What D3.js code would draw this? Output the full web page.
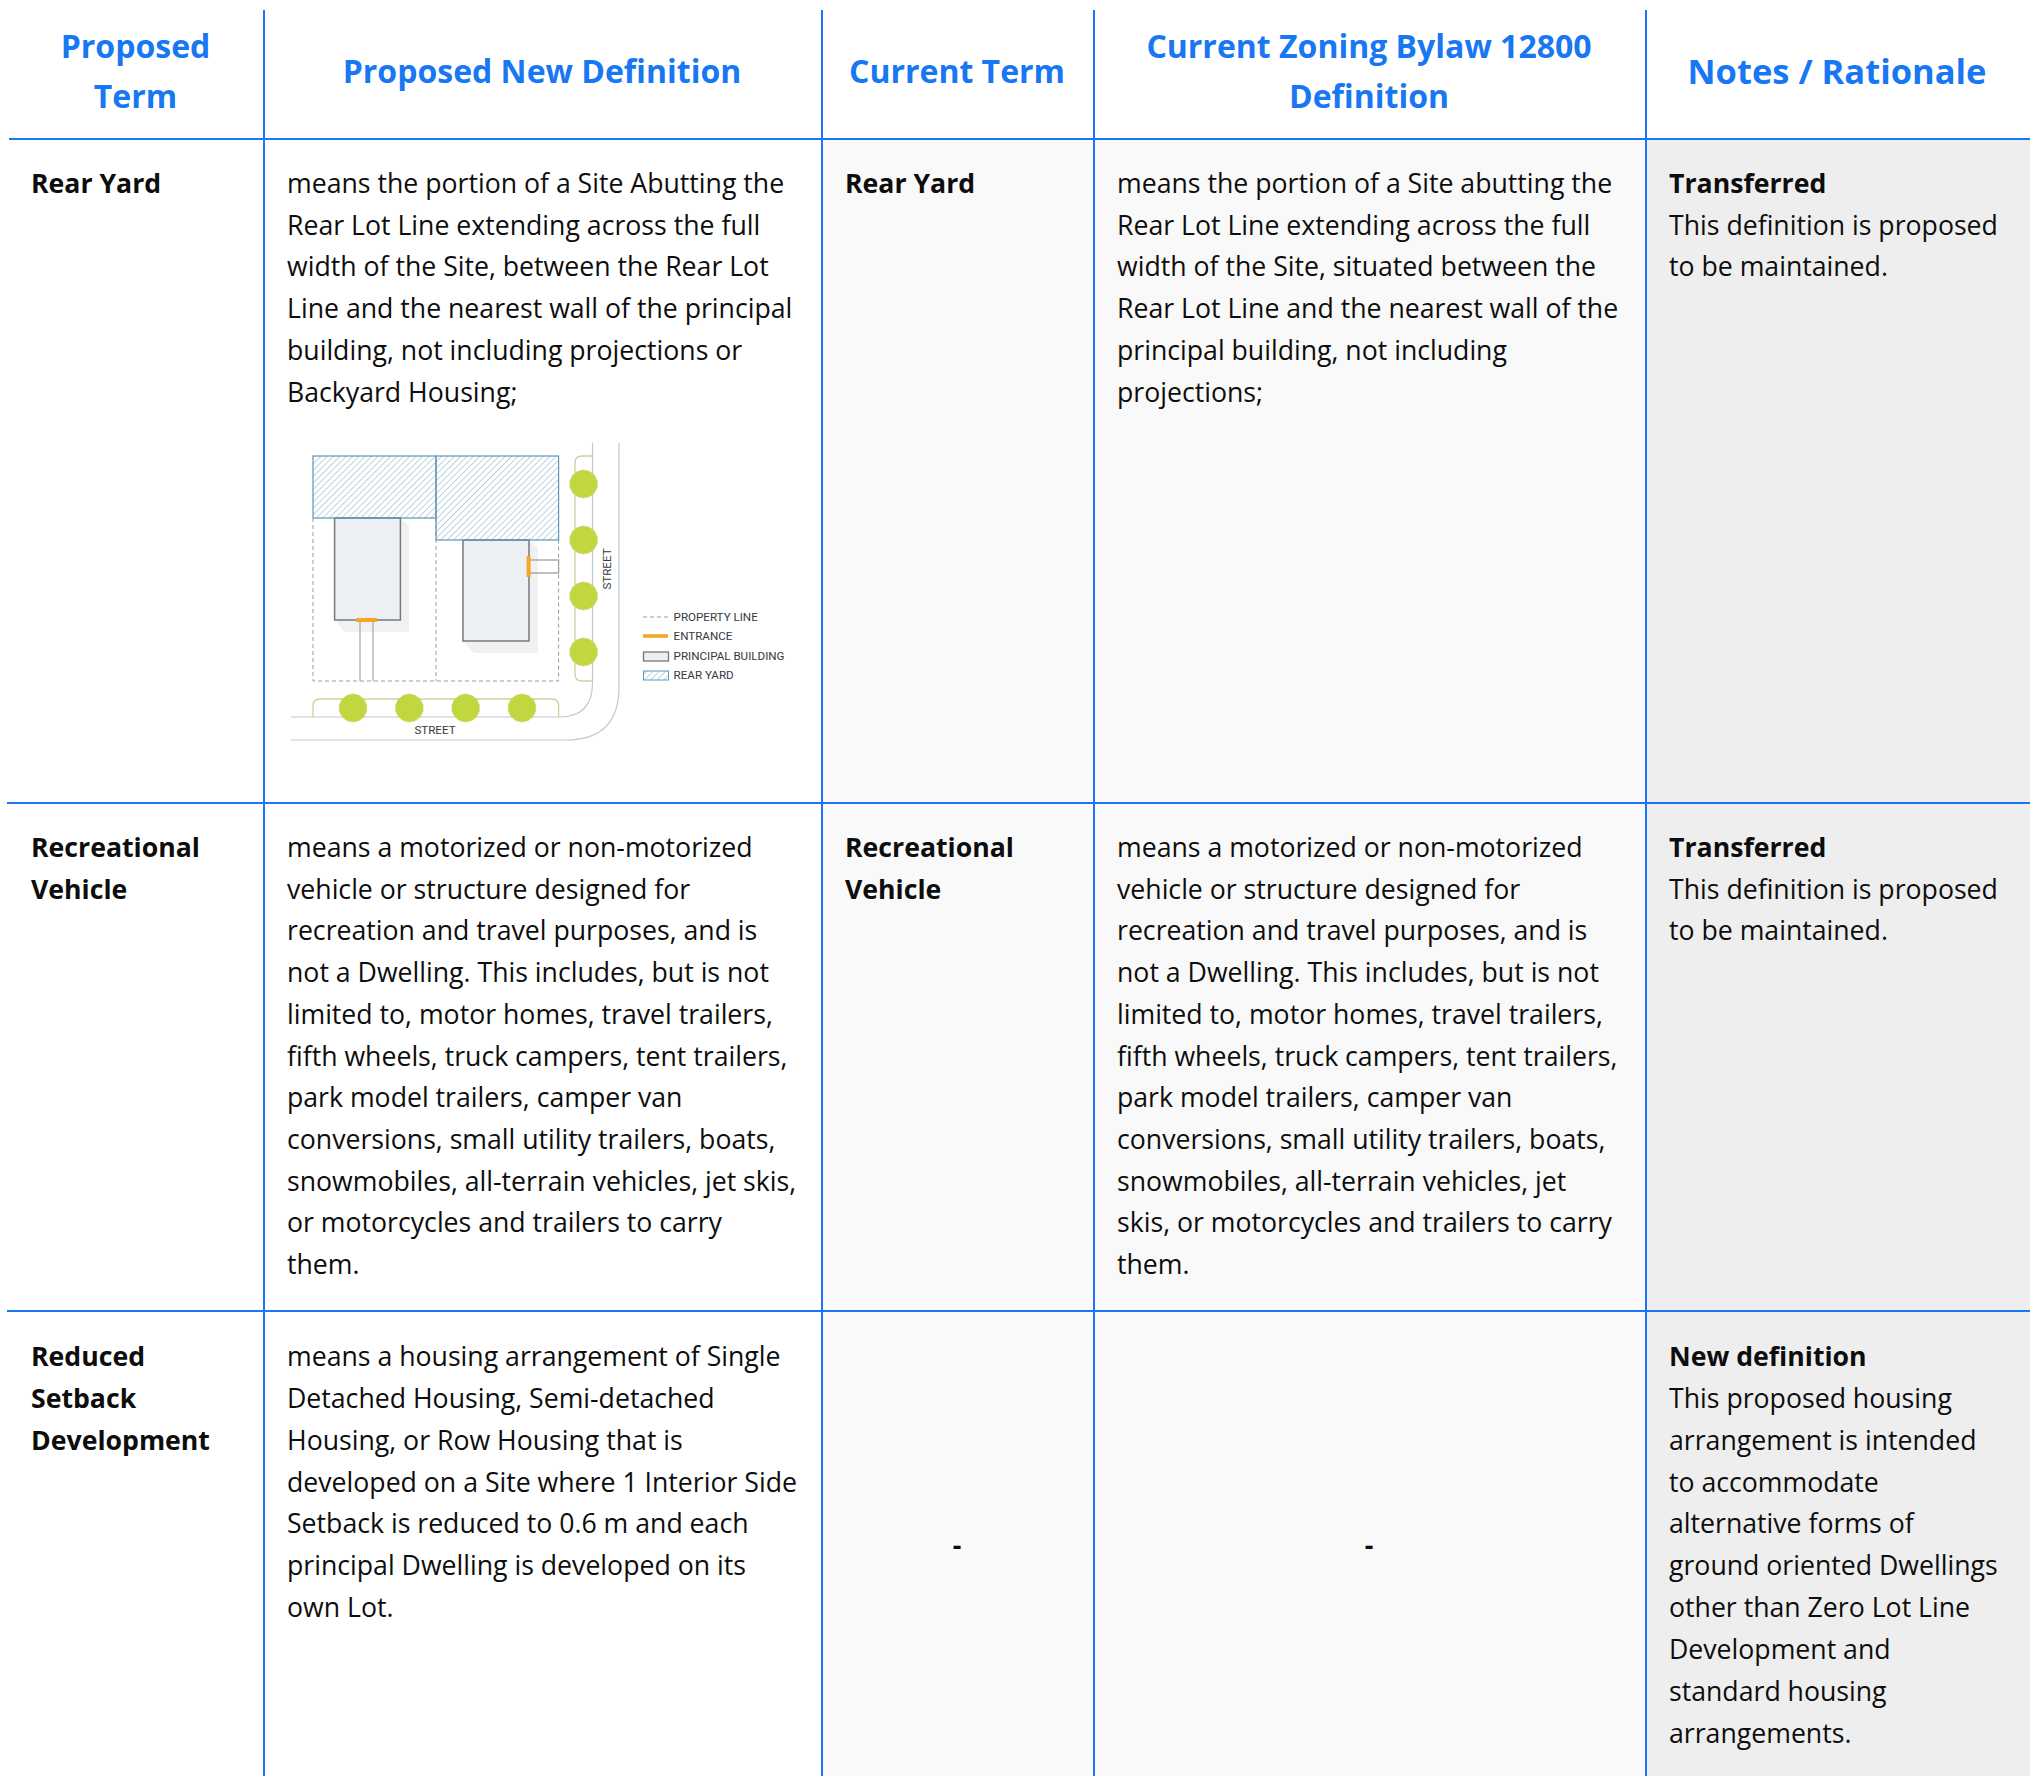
<!DOCTYPE html>
<meta charset="utf-8">
<style>
  html, body { margin: 0; background: #fff; }
  svg { display: block; }
  text { font-family: "Open Sans", sans-serif; }
</style>
<script src="https://d3js.org/d3.v7.min.js"></script>
<div id="chart"></div>
<script>

// table content
var headers = [
  ["Proposed", "Term"],
  ["Proposed New Definition"],
  ["Current Term"],
  ["Current Zoning Bylaw 12800", "Definition"],
  ["Notes / Rationale"]
];

var proposedTerms = [
  ["Rear Yard"],
  ["Recreational", "Vehicle"],
  ["Reduced", "Setback", "Development"]
];

var proposedDefinitions = [
  ["means the portion of a Site Abutting the",
   "Rear Lot Line extending across the full",
   "width of the Site, between the Rear Lot",
   "Line and the nearest wall of the principal",
   "building, not including projections or",
   "Backyard Housing;"],
  ["means a motorized or non-motorized",
   "vehicle or structure designed for",
   "recreation and travel purposes, and is",
   "not a Dwelling. This includes, but is not",
   "limited to, motor homes, travel trailers,",
   "fifth wheels, truck campers, tent trailers,",
   "park model trailers, camper van",
   "conversions, small utility trailers, boats,",
   "snowmobiles, all-terrain vehicles, jet skis,",
   "or motorcycles and trailers to carry",
   "them."],
  ["means a housing arrangement of Single",
   "Detached Housing, Semi-detached",
   "Housing, or Row Housing that is",
   "developed on a Site where 1 Interior Side",
   "Setback is reduced to 0.6 m and each",
   "principal Dwelling is developed on its",
   "own Lot."]
];

var currentTerms = [
  ["Rear Yard"],
  ["Recreational", "Vehicle"],
  []
];

var currentDefinitions = [
  ["means the portion of a Site abutting the",
   "Rear Lot Line extending across the full",
   "width of the Site, situated between the",
   "Rear Lot Line and the nearest wall of the",
   "principal building, not including",
   "projections;"],
  ["means a motorized or non-motorized",
   "vehicle or structure designed for",
   "recreation and travel purposes, and is",
   "not a Dwelling. This includes, but is not",
   "limited to, motor homes, travel trailers,",
   "fifth wheels, truck campers, tent trailers,",
   "park model trailers, camper van",
   "conversions, small utility trailers, boats,",
   "snowmobiles, all-terrain vehicles, jet",
   "skis, or motorcycles and trailers to carry",
   "them."],
  []
];

var noteTitles = ["Transferred", "Transferred", "New definition"];

var noteLines = [
  ["This definition is proposed", "to be maintained."],
  ["This definition is proposed", "to be maintained."],
  ["This proposed housing",
   "arrangement is intended",
   "to accommodate",
   "alternative forms of",
   "ground oriented Dwellings",
   "other than Zero Lot Line",
   "Development and",
   "standard housing",
   "arrangements."]
];

var legendLabels = ["PROPERTY LINE", "ENTRANCE", "PRINCIPAL BUILDING", "REAR YARD"];

var width = 2037, height = 1776;
var blue = "#1877f2", ink = "#0d0d0d";

var colEdges = [9, 264, 822, 1094, 1646, 2030];
var rowEdges = [139, 803, 1311, 1776];
var textX = [31, 287, 845, 1117, 1669];
var rowOffset = [53.8, 54, 55], rowStep = [41.8, 41.7, 41.85];
var bodySize = 26.67;

var svg = d3.select("#chart").append("svg")
    .attr("width", width)
    .attr("height", height);

// column shading
svg.selectAll("rect.shade")
  .data([[2, "#f9f9f9"], [3, "#f9f9f9"], [4, "#eeeeee"]])
  .enter().append("rect")
    .attr("class", "shade")
    .attr("x", function(d) { return colEdges[d[0]]; })
    .attr("y", rowEdges[0])
    .attr("width", function(d) { return colEdges[d[0] + 1] - colEdges[d[0]]; })
    .attr("height", height - rowEdges[0])
    .attr("fill", function(d) { return d[1]; });

// writes a block of lines starting at a baseline
function block(lines, x, y, weight, anchor, size, fill, step) {
  svg.append("g").selectAll("text")
    .data(lines)
    .enter().append("text")
      .attr("x", x)
      .attr("y", function(d, i) { return y + i * step; })
      .attr("font-size", size)
      .attr("font-weight", weight)
      .attr("text-anchor", anchor)
      .attr("fill", fill)
      .text(function(d) { return d; });
}

// header
headers.forEach(function(h, c) {
  var cx = (colEdges[c] + colEdges[c + 1]) / 2 - 1;
  block(h, cx, h.length == 2 ? 58 : (c == 4 ? 84 : 83), 700, "middle", c == 4 ? 34.5 : 32, blue, 50);
});

// rows
rowEdges.slice(0, 3).forEach(function(top, r) {
  var y0 = top + rowOffset[r], step = rowStep[r];
  block(proposedTerms[r], textX[0], y0, 700, "start", bodySize, ink, step);
  block(proposedDefinitions[r], textX[1], y0, 400, "start", bodySize, ink, step);
  block(currentTerms[r], textX[2], y0, 700, "start", bodySize, ink, step);
  block(currentDefinitions[r], textX[3], y0, 400, "start", bodySize, ink, step);
  block([noteTitles[r]], textX[4], y0, 700, "start", bodySize, ink, step);
  block(noteLines[r], textX[4], y0 + step, 400, "start", bodySize, ink, step);
});

// the two dashes in the last row
block(["-"], (colEdges[2] + colEdges[3]) / 2 - 1, 1555, 700, "middle", bodySize, ink, 0);
block(["-"], (colEdges[3] + colEdges[4]) / 2 - 1, 1555, 700, "middle", bodySize, ink, 0);

// grid lines
svg.selectAll("line.v")
  .data(colEdges.slice(1, 5))
  .enter().append("line")
    .attr("class", "v")
    .attr("x1", function(d) { return d; })
    .attr("x2", function(d) { return d; })
    .attr("y1", 10)
    .attr("y2", height)
    .attr("stroke", blue)
    .attr("stroke-width", 2);

svg.selectAll("line.h")
  .data([[rowEdges[0], 9], [rowEdges[1], 7], [rowEdges[2], 7]])
  .enter().append("line")
    .attr("class", "h")
    .attr("x1", function(d) { return d[1]; })
    .attr("x2", colEdges[5])
    .attr("y1", function(d) { return d[0]; })
    .attr("y2", function(d) { return d[0]; })
    .attr("stroke", blue)
    .attr("stroke-width", 2);

// rear yard diagram
var defs = svg.append("defs");
defs.append("pattern")
    .attr("id", "hatch")
    .attr("width", 4.5)
    .attr("height", 4.5)
    .attr("patternUnits", "userSpaceOnUse")
    .attr("patternTransform", "rotate(45)")
  .append("line")
    .attr("x1", 0).attr("x2", 0)
    .attr("y1", 0).attr("y2", 4.5)
    .attr("stroke", "#7fa6bd")
    .attr("stroke-width", 1);

var dia = svg.append("g");
var street = "#b9cbd6", kerb = "#cbd39c", wall = "#74797e";

function box(g, x, y, w, h, fill, stroke, sw) {
  return g.append("rect")
    .attr("x", x).attr("y", y).attr("width", w).attr("height", h)
    .attr("fill", fill).attr("stroke", stroke).attr("stroke-width", sw);
}
function path(g, d, fill, stroke, sw) {
  return g.append("path").attr("d", d).attr("fill", fill)
    .attr("stroke", stroke).attr("stroke-width", sw);
}

// road edges
path(dia, "M291,740H566Q619,740 619,687V443", "none", street, 1.2);
path(dia, "M291,717H559Q592.5,717 592.5,683V443", "none", street, 1.2);

// boulevards
path(dia, "M592.5,456H582Q575,456 575,463V674Q575,681 582,681H592.5", "none", kerb, 1.3);
path(dia, "M313,717V706Q313,699 320,699H552Q558.6,699 558.6,706V717", "none", kerb, 1.3);

// shadows
path(dia, "M400,518L409,526V632H345L335,620H400Z", "#f0f1f2", "none", 0);
path(dia, "M529,540L538,548V653H474L463,641H529Z", "#f0f1f2", "none", 0);

// walks
path(dia, "M360,620V681M373,620V681", "none", "#a9abad", 1.3);
path(dia, "M529,560H558.6V573H529", "none", "#a9abad", 1.3);

// property lines
path(dia, "M313,518V681H558.6V540M436,518V681", "none", "#9a9da0", 1)
    .attr("stroke-dasharray", "4 3");

// buildings
box(dia, 334.6, 518, 65.8, 102, "#edf0f3", wall, 1.5);
box(dia, 463, 540, 66, 101, "#edf0f3", wall, 1.5);

// rear yards
box(dia, 313, 456, 123, 62, "url(#hatch)", "#5f97b8", 1.2);
box(dia, 436, 456, 122.6, 84, "url(#hatch)", "#5f97b8", 1.2);

// entrances
path(dia, "M356,620H377", "none", "#f5a623", 4);
path(dia, "M528.6,556V577", "none", "#f5a623", 4);

// trees, drawn as many-sided blobs
var treeX = d3.scalePoint().domain(d3.range(4)).range([353, 522]);
var treeY = d3.scalePoint().domain(d3.range(4)).range([484, 652]);
var blob = d3.lineRadial()
    .angle(function(d) { return d * Math.PI / 7; })
    .radius(14.2)
    .curve(d3.curveLinearClosed);
function trees(list) {
  dia.append("g").selectAll("path")
    .data(list)
    .enter().append("path")
      .attr("transform", function(d) { return "translate(" + d[0] + "," + d[1] + ")"; })
      .attr("d", blob(d3.range(14)))
      .attr("fill", "#c1d63f")
      .attr("stroke", "#d3dfa0")
      .attr("stroke-width", 0.8)
      .attr("stroke-dasharray", "2 1.5");
}
trees(d3.range(4).map(function(i) { return [treeX(i), 708]; }));
trees(d3.range(4).map(function(i) { return [583.6, treeY(i)]; }));

// street labels
function smallText(x, y, label, rotate) {
  var t = dia.append("text")
    .attr("font-size", 11.6)
    .attr("fill", "#33393e")
    .style("font-family", "Roboto, sans-serif")
    .text(label);
  if (rotate) {
    t.attr("text-anchor", "middle")
     .attr("transform", "translate(" + x + "," + y + ") rotate(-90)");
  } else {
    t.attr("x", x).attr("y", y);
  }
  return t;
}
smallText(435, 734, "STREET").attr("text-anchor", "middle");
smallText(611, 569, "STREET", true);

// legend
var legendY = d3.scalePoint().domain(legendLabels).range([616.5, 674.5]);
legendLabels.forEach(function(d) {
  smallText(673.6, legendY(d) + 4.5, d);
});
path(dia, "M643,617H668", "none", "#9a9da0", 1).attr("stroke-dasharray", "4 3");
path(dia, "M643,636H668", "none", "#f5a623", 3.5);
box(dia, 643.5, 652, 25, 9, "#edf0f3", wall, 1.3);
box(dia, 643.5, 671, 25, 9, "url(#hatch)", "#5f97b8", 1);

</script>
